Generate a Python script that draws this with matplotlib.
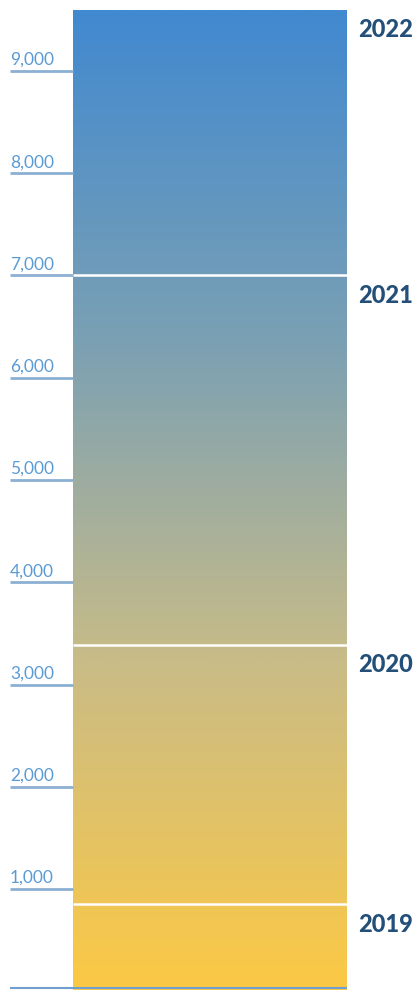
import numpy as np
import matplotlib
matplotlib.use("Agg")
import matplotlib.pyplot as plt
from matplotlib.colors import LinearSegmentedColormap

# cumulative totals at the top of each yearly segment
years = ["2019", "2020", "2021", "2022"]
totals = [850, 3390, 7000, 9600]
tick_values = [1000, 2000, 3000, 4000, 5000, 6000, 7000, 8000, 9000]

plt.rcParams["font.family"] = ["Lato", "DejaVu Sans"]

fig = plt.figure(figsize=(4.2, 9.9), dpi=100)
# axes covers x 10px..347px, from the baseline to the top
ax = fig.add_axes([10 / 420, 2 / 990, 337 / 420, 988 / 990])
ax.set_xlim(-63 / 274, 1)
ax.axis("off")

cmap = LinearSegmentedColormap.from_list("yb", ["#fcc944", "#c9bc87", "#7aa0b4", "#4189d0"])
grad = np.linspace(0, 1, 512).reshape(-1, 1)

bottoms = [0] + totals[:-1]
heights = [t - b for t, b in zip(totals, bottoms)]
bars = ax.bar([0] * len(years), heights, bottom=bottoms, width=1, align="edge",
              facecolor="none", edgecolor="none")
for patch in bars:
    im = ax.imshow(grad, cmap=cmap, origin="lower", aspect="auto",
                   extent=(0, 1, 0, totals[-1]), zorder=1)
    im.set_clip_path(patch)
ax.set_ylim(32, 9694)

# white separators between years
ax.hlines(totals[:-1], 0, 1, colors="white", lw=1.8, zorder=3)

# tick lines and labels
x0 = ax.get_xlim()[0]
ax.hlines(tick_values, x0, 0, colors="#8cb0d3", lw=2, zorder=2)
for v in tick_values:
    ax.annotate(f"{v:,}", (x0, v), xytext=(0, 3), textcoords="offset pixels",
                ha="left", va="bottom", fontsize=12.5, color="#5b9bd5")

# baseline
ax.hlines(ax.get_ylim()[0], x0, 1, colors="#6f9fcf", lw=1.5, zorder=4, clip_on=False)

# year labels
for y, t in zip(years, totals):
    ax.annotate(y, (1, t), xytext=(11, -20), textcoords="offset pixels",
                ha="left", va="center", fontsize=17, fontweight="black",
                color="#234f78", annotation_clip=False)

fig.savefig("out.png", dpi=100)
